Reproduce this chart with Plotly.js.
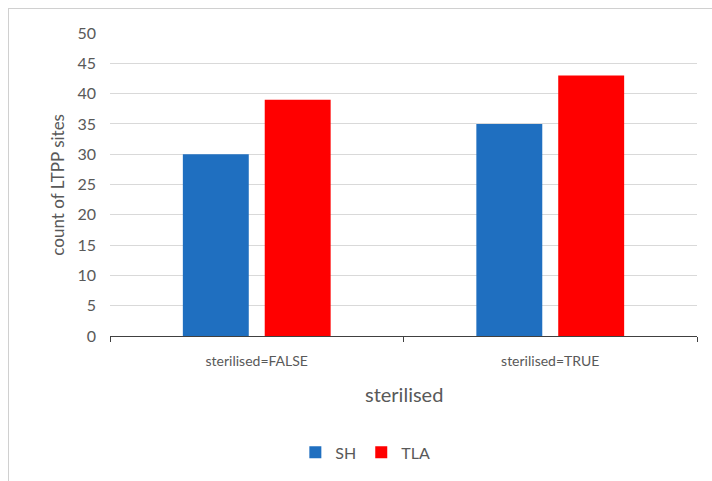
<!DOCTYPE html>
<html>
<head>
<meta charset="utf-8">
<script src="https://cdn.plot.ly/plotly-3.0.1.min.js"></script>
<style>
html,body{margin:0;padding:0;background:#fff;}
#wrap{position:relative;width:712px;height:481px;}
#chart{position:absolute;left:0;top:0;width:712px;height:481px;}
#bt{position:absolute;left:8px;top:8px;width:704px;height:0;border-top:1.5px solid #d0d0d0;}
#bl{position:absolute;left:8px;top:8px;width:0;height:473px;border-left:1.5px solid #d0d0d0;}
</style>
</head>
<body>
<div id="wrap"><div id="chart"></div><div id="bt"></div><div id="bl"></div></div>
<script>
const categories = ["sterilised=FALSE", "sterilised=TRUE"];
const shValues = [30, 35];
const tlaValues = [39, 43];
const seriesNames = ["SH", "TLA"];
const yTicks = [0, 5, 10, 15, 20, 25, 30, 35, 40, 45, 50];

const font = "Lato, 'Open Sans', sans-serif";
const data = [
  {type: "bar", name: seriesNames[0], x: categories, y: shValues, marker: {color: "#1f6fc0"}, hoverinfo: "none"},
  {type: "bar", name: seriesNames[1], x: categories, y: tlaValues, marker: {color: "#ff0000"}, hoverinfo: "none"}
];
const layout = {
  width: 712, height: 481,
  margin: {l: 110, r: 15, t: 33, b: 143},
  paper_bgcolor: "rgba(0,0,0,0)", plot_bgcolor: "#fff",
  barmode: "group", bargap: 0.442, bargroupgap: 0.195,
  font: {family: font, color: "#595959"},
  showlegend: true,
  legend: {orientation: "h", x: 0.435, xanchor: "center", y: -0.384, yanchor: "middle",
           font: {size: 16, color: "#595959"}, traceorder: "normal", itemwidth: 30},
  xaxis: {
    type: "category", tickson: "boundaries", ticks: "outside", ticklen: 5, tickcolor: "#404040",
    showline: true, linecolor: "#404040", linewidth: 1, showgrid: false,
    tickfont: {size: 14, color: "#595959"}, ticklabelstandoff: 12
  },
  yaxis: {
    range: [0, 50], tickvals: yTicks, showgrid: true, gridcolor: "#d9d9d9", zeroline: false,
    showline: false, ticks: "", tickfont: {size: 16, color: "#595959"}, ticklabelstandoff: 13
  },
  annotations: [
    {text: "sterilised", xref: "paper", yref: "paper", x: 0.5, y: -0.193, xanchor: "center", yanchor: "middle",
     showarrow: false, font: {size: 20, color: "#595959"}},
    {text: "count of LTPP sites", xref: "paper", yref: "paper", x: -0.09, y: 0.5, xanchor: "center", yanchor: "middle",
     textangle: -90, showarrow: false, font: {size: 17, color: "#595959"}}
  ]
};
Plotly.newPlot("chart", data, layout, {displayModeBar: false, staticPlot: true});
</script>
</body>
</html>
